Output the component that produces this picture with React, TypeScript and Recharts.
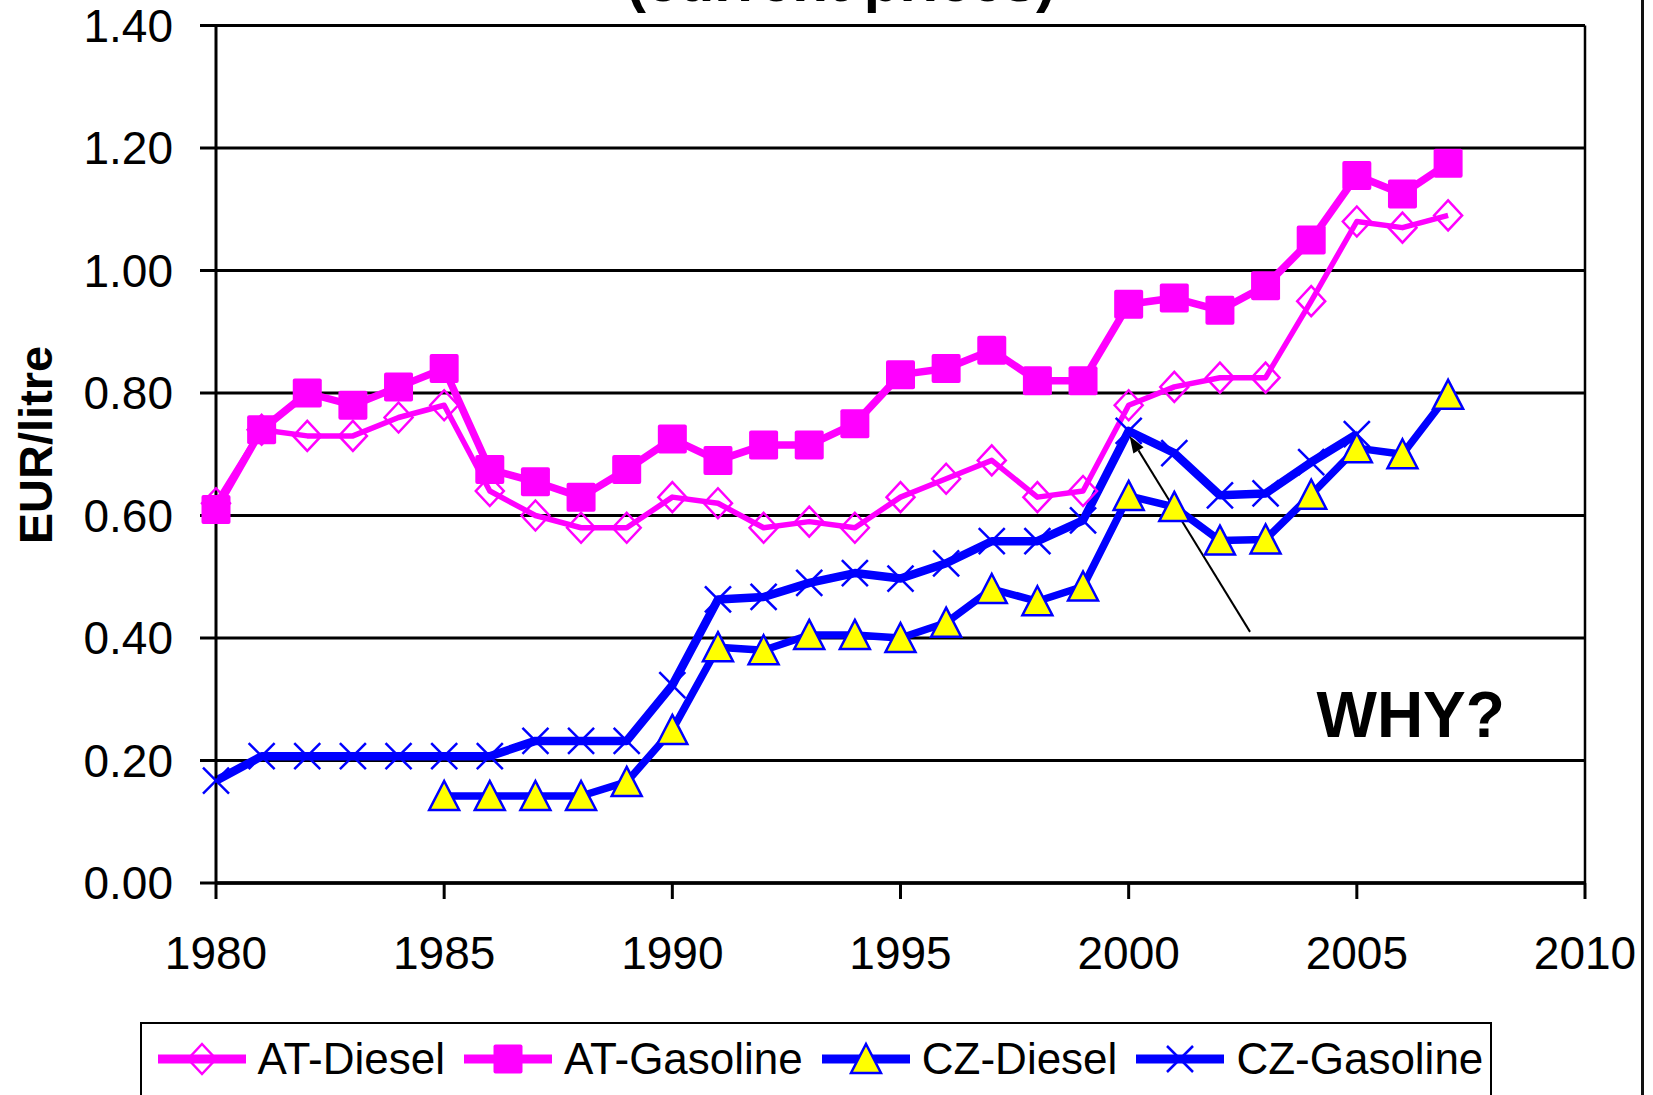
import React from "react";
import {
  CartesianGrid,
  Line,
  LineChart,
  ReferenceDot,
  ReferenceLine,
  XAxis,
  YAxis,
} from "recharts";

const YEARS = [
  1980, 1981, 1982, 1983, 1984, 1985, 1986, 1987, 1988, 1989, 1990, 1991, 1992,
  1993, 1994, 1995, 1996, 1997, 1998, 1999, 2000, 2001, 2002, 2003, 2004, 2005,
  2006, 2007,
];

const AT_DIESEL = [
  0.62, 0.74, 0.73, 0.73, 0.76, 0.78, 0.64, 0.6, 0.58, 0.58, 0.63, 0.62, 0.58,
  0.59, 0.58, 0.63, 0.66, 0.69, 0.63, 0.64, 0.78, 0.81, 0.825, 0.825, 0.95, 1.08,
  1.07, 1.09,
];

const AT_GASOLINE = [
  0.61, 0.74, 0.8, 0.78, 0.81, 0.84, 0.675, 0.655, 0.63, 0.675, 0.725, 0.69,
  0.715, 0.715, 0.75, 0.83, 0.84, 0.87, 0.82, 0.82, 0.945, 0.955, 0.935, 0.975,
  1.05, 1.155, 1.125, 1.175,
];

const CZ_DIESEL = [
  null, null, null, null, null, 0.142, 0.142, 0.142, 0.142, 0.165, 0.25, 0.385,
  0.38, 0.405, 0.405, 0.4, 0.425, 0.48, 0.46, 0.484, 0.632, 0.614, 0.559, 0.561,
  0.634, 0.71, 0.7, 0.797,
];

const CZ_GASOLINE = [
  0.167, 0.207, 0.207, 0.207, 0.207, 0.207, 0.207, 0.232, 0.232, 0.232, 0.323,
  0.463, 0.467, 0.49, 0.506, 0.497, 0.522, 0.558, 0.558, 0.592, 0.738, 0.702,
  0.633, 0.636, 0.687, 0.733, null, null,
];

const SERIES_NAMES = ["AT-Diesel", "AT-Gasoline", "CZ-Diesel", "CZ-Gasoline"];
const X_TICKS = [1980, 1985, 1990, 1995, 2000, 2005, 2010];
const Y_TICKS = [0, 0.2, 0.4, 0.6, 0.8, 1.0, 1.2, 1.4];
const TITLE = "(current prices)";
const Y_LABEL = "EUR/litre";
const NOTE = "WHY?";
// annotation arrow (data coordinates) and note anchor
const ARROW_FROM = { x: 2002.66, y: 0.41 };
const ARROW_TO = { x: 2000.02, y: 0.73 };
const NOTE_AT = { x: 2006.18, y: 0.238 };

const MAGENTA = "#FF00FF";
const BLUE = "#0000FF";
const YELLOW = "#FFFF00";
const FONT = '"Liberation Sans", Arial, Helvetica, sans-serif';

type Marker = "diamond" | "square" | "triangle" | "cross";

function MarkerShape({ kind, cx, cy }: { kind: Marker; cx: number; cy: number }) {
  if (kind === "square") {
    return (
      <rect x={cx - 14.5} y={cy - 14.5} width={29} height={29} rx={2} fill={MAGENTA} />
    );
  }
  if (kind === "diamond") {
    return (
      <polygon
        points={`${cx},${cy - 15} ${cx + 14},${cy} ${cx},${cy + 15} ${cx - 14},${cy}`}
        fill="none"
        stroke={MAGENTA}
        strokeWidth={2.5}
      />
    );
  }
  if (kind === "triangle") {
    return (
      <polygon
        points={`${cx},${cy - 15} ${cx + 15},${cy + 14} ${cx - 15},${cy + 14}`}
        fill={YELLOW}
        stroke={BLUE}
        strokeWidth={2.5}
      />
    );
  }
  return (
    <g stroke={BLUE} strokeWidth={2.5}>
      <line x1={cx - 13} y1={cy - 13} x2={cx + 13} y2={cy + 13} />
      <line x1={cx - 13} y1={cy + 13} x2={cx + 13} y2={cy - 13} />
    </g>
  );
}

const dotRenderer = (kind: Marker) => (p: any) => {
  const k = `${kind}-${p.index}`;
  if (p.cx == null || p.cy == null || p.value == null) return <g key={k} />;
  return (
    <g key={k}>
      <MarkerShape kind={kind} cx={p.cx} cy={p.cy} />
    </g>
  );
};

const SERIES = [
  { key: "atDiesel", name: SERIES_NAMES[0], color: MAGENTA, width: 5.5, marker: "diamond" as Marker },
  { key: "atGasoline", name: SERIES_NAMES[1], color: MAGENTA, width: 7.5, marker: "square" as Marker },
  { key: "czDiesel", name: SERIES_NAMES[2], color: BLUE, width: 7.5, marker: "triangle" as Marker },
  { key: "czGasoline", name: SERIES_NAMES[3], color: BLUE, width: 8.5, marker: "cross" as Marker },
];

// draw order: the CZ-Diesel triangles sit above the CZ-Gasoline line
const DRAW_ORDER = ["atDiesel", "atGasoline", "czGasoline", "czDiesel"];

function ArrowShape(props: any) {
  const { x1, y1, x2, y2 } = props;
  const dx = x2 - x1;
  const dy = y2 - y1;
  const len = Math.sqrt(dx * dx + dy * dy) || 1;
  const ux = dx / len;
  const uy = dy / len;
  const head = 17;
  const half = 6;
  const bx = x2 - ux * head;
  const by = y2 - uy * head;
  return (
    <g>
      <line x1={x1} y1={y1} x2={bx} y2={by} stroke="#000" strokeWidth={2} />
      <polygon
        points={`${x2},${y2} ${bx - uy * half},${by + ux * half} ${bx + uy * half},${by - ux * half}`}
        fill="#000"
      />
    </g>
  );
}

function LegendSample({ kind, color }: { kind: Marker; color: string }) {
  return (
    <svg width={88} height={44} style={{ display: "block", flex: "none" }}>
      <line x1={0} y1={22} x2={88} y2={22} stroke={color} strokeWidth={9} />
      <MarkerShape kind={kind} cx={44} cy={22} />
    </svg>
  );
}

export default function App() {
  const data = YEARS.map((year, i) => ({
    year,
    atDiesel: AT_DIESEL[i],
    atGasoline: AT_GASOLINE[i],
    czDiesel: CZ_DIESEL[i],
    czGasoline: CZ_GASOLINE[i],
  }));

  return (
    <div
      style={{
        position: "absolute",
        left: 0,
        top: 0,
        width: 1653,
        height: 1095,
        overflow: "hidden",
        background: "#fff",
        fontFamily: FONT,
      }}
    >
      <LineChart
        width={1653}
        height={1095}
        data={data}
        margin={{ top: 25.5, right: 68, left: 0, bottom: 0 }}
      >
        <text
          x={841}
          y={1}
          textAnchor="middle"
          fontSize={58.5}
          fontWeight="bold"
          fontFamily={FONT}
          fill="#000"
        >
          {TITLE}
        </text>
        <CartesianGrid horizontal vertical={false} stroke="#000" strokeWidth={3} />
        <XAxis
          dataKey="year"
          type="number"
          domain={[1980, 2010]}
          ticks={X_TICKS}
          interval={0}
          height={212}
          tickSize={16}
          tickMargin={37}
          axisLine={{ stroke: "#000", strokeWidth: 3.5 }}
          tickLine={{ stroke: "#000", strokeWidth: 3 }}
          tick={{ fill: "#000", fontSize: 46, fontFamily: FONT }}
        />
        <YAxis
          type="number"
          domain={[0, 1.4]}
          ticks={Y_TICKS}
          interval={0}
          width={216}
          tickSize={16}
          tickMargin={27}
          tickFormatter={(v: number) => v.toFixed(2)}
          axisLine={{ stroke: "#000", strokeWidth: 3 }}
          tickLine={{ stroke: "#000", strokeWidth: 3 }}
          tick={{ fill: "#000", fontSize: 46, fontFamily: FONT }}
          label={{
            content: () => (
              <text
                x={35.5}
                y={445}
                transform="rotate(-90, 35.5, 445)"
                textAnchor="middle"
                dominantBaseline="central"
                fontSize={47}
                fontWeight="bold"
                fontFamily={FONT}
                fill="#000"
              >
                {Y_LABEL}
              </text>
            ),
          }}
        />
        <ReferenceLine x={2010} stroke="#000" strokeWidth={2.5} />
        {DRAW_ORDER.map((key) => {
          const s = SERIES.find((d) => d.key === key)!;
          return (
            <Line
              key={s.key}
              type="linear"
              dataKey={s.key}
              name={s.name}
              stroke={s.color}
              strokeWidth={s.width}
              strokeLinejoin="round"
              dot={dotRenderer(s.marker)}
              activeDot={false}
              connectNulls={false}
              isAnimationActive={false}
            />
          );
        })}
        <ReferenceLine
          segment={[ARROW_FROM, ARROW_TO]}
          ifOverflow="visible"
          shape={ArrowShape}
        />
        <ReferenceDot
          x={NOTE_AT.x}
          y={NOTE_AT.y}
          r={0}
          ifOverflow="visible"
          shape={(p: any) => (
            <text
              x={p.cx}
              y={p.cy}
              textAnchor="middle"
              fontSize={64}
              fontWeight="bold"
              fontFamily={FONT}
              fill="#000"
            >
              {NOTE}
            </text>
          )}
        />
      </LineChart>

      {/* legend box, its bottom edge runs off the page */}
      <div
        style={{
          position: "absolute",
          left: 140,
          top: 1022,
          width: 1332,
          height: 110,
          border: "2.5px solid #000",
          display: "flex",
          alignItems: "flex-start",
          paddingLeft: 15.5,
          paddingTop: 13,
          boxSizing: "content-box",
        }}
      >
        {SERIES.map((s, i) => (
          <div
            key={s.key}
            style={{
              display: "flex",
              alignItems: "center",
              height: 44,
              marginLeft: i === 0 ? 0 : 19,
            }}
          >
            <LegendSample kind={s.marker} color={s.color} />
            <span
              style={{
                marginLeft: 12,
                fontSize: 44,
                lineHeight: 1,
                color: "#000",
                whiteSpace: "nowrap",
              }}
            >
              {s.name}
            </span>
          </div>
        ))}
      </div>

      <div
        style={{
          position: "absolute",
          left: 1641,
          top: 0,
          width: 3,
          height: 1095,
          background: "#111",
        }}
      />
    </div>
  );
}
